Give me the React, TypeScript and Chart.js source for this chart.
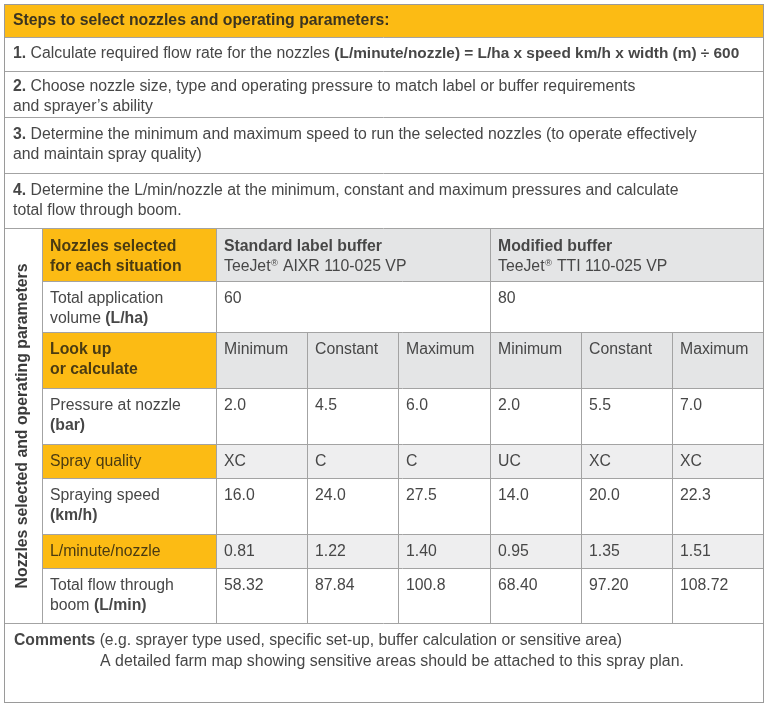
import React, { useEffect, useRef } from "react";
import { Chart, registerables } from "chart.js";

Chart.register(...registerables);

// ---------- data ----------
const title = "Steps to select nozzles and operating parameters:";
const stepNumbers = ["1.", "2.", "3.", "4."];
const stepLines: { t: string; b?: boolean; s?: number }[][][] = [
  [[{ t: " Calculate required flow rate for the nozzles " }, { t: "(L/minute/nozzle) = L/ha x speed km/h x width (m) ÷ 600", b: true, s: 0.975 }]],
  [[{ t: " Choose nozzle size, type and operating pressure to match label or buffer requirements" }], [{ t: "and sprayer’s ability" }]],
  [[{ t: " Determine the minimum and maximum speed to run the selected nozzles (to operate effectively" }], [{ t: "and maintain spray quality)" }]],
  [[{ t: " Determine the L/min/nozzle at the minimum, constant and maximum pressures and calculate" }], [{ t: "total flow through boom." }]],
];
const sideLabel = "Nozzles selected and operating parameters";
const headerLabel = ["Nozzles selected", "for each situation"];
const groups = ["Standard label buffer", "Modified buffer"];
const nozzles = ["TeeJet® AIXR 110-025 VP", "TeeJet® TTI 110-025 VP"];
const volumes = ["60", "80"];
const levels = ["Minimum", "Constant", "Maximum", "Minimum", "Constant", "Maximum"];
const pressure = ["2.0", "4.5", "6.0", "2.0", "5.5", "7.0"];
const sprayQuality = ["XC", "C", "C", "UC", "XC", "XC"];
const speed = ["16.0", "24.0", "27.5", "14.0", "20.0", "22.3"];
const flowPerNozzle = ["0.81", "1.22", "1.40", "0.95", "1.35", "1.51"];
const totalFlow = ["58.32", "87.84", "100.8", "68.40", "97.20", "108.72"];
const commentLabel = "Comments";
const commentHint = " (e.g. sprayer type used, specific set-up, buffer calculation or sensitive area)";
const commentText = "A detailed farm map showing sensitive areas should be attached to this spray plan.";

// ---------- styles / layout ----------
const YELLOW = "#FCBB14";
const GREY_HEAD = "#E4E5E6";
const GREY_ROW = "#EEEEEF";
const LINE = "#A3A3A3";
const TEXT = "#474747";
const TEXT_Y = "#4A3B12";
const FONT = "'Liberation Sans', Arial, Helvetica, sans-serif";
const FS = 15.8;

const L = 4, R = 763;
const stepRows = [4, 37, 71, 117, 173, 228];
const tableRows = [229, 281, 332, 388, 444, 478, 534, 568, 623];
const commentBottom = 702;
const colSide = 42, colLabel = 216;
const dataCols = [216, 307, 398, 490, 581, 672, 763];

export default function App() {
  const ref = useRef<HTMLCanvasElement | null>(null);
  useEffect(() => {
    document.body.style.margin = "0";
    const canvas = ref.current!;
    const tablePlugin = {
      id: "tablePlugin",
      afterDraw(chart: any) {
        const c: CanvasRenderingContext2D = chart.ctx;
        const xs = chart.scales.x, ys = chart.scales.y;
        const X = (v: number) => xs.getPixelForValue(v);
        const Y = (v: number) => ys.getPixelForValue(v);
        const rect = (x0: number, y0: number, x1: number, y1: number, col: string) => {
          c.fillStyle = col;
          c.fillRect(X(x0), Y(y0), X(x1) - X(x0), Y(y1) - Y(y0));
        };
        const hline = (x0: number, x1: number, y: number) => {
          c.beginPath();
          c.moveTo(X(x0), Y(y) + 0.5);
          c.lineTo(X(x1), Y(y) + 0.5);
          c.stroke();
        };
        const vline = (x: number, y0: number, y1: number) => {
          c.beginPath();
          c.moveTo(X(x) + 0.5, Y(y0));
          c.lineTo(X(x) + 0.5, Y(y1));
          c.stroke();
        };
        const rich = (segs: { t: string; b?: boolean; s?: number }[], x: number, y: number, col: string) => {
          let cx = X(x);
          c.fillStyle = col;
          c.textBaseline = "middle";
          c.textAlign = "left";
          for (const s of segs) {
            const fs = FS * (s.s || 1);
            const parts = s.t.split("®");
            parts.forEach((p, pi) => {
              c.font = `${s.b ? "bold " : ""}${fs}px ${FONT}`;
              c.fillText(p, cx, Y(y));
              cx += c.measureText(p).width;
              if (pi < parts.length - 1) {
                c.font = `${s.b ? "bold " : ""}${fs * 0.6}px ${FONT}`;
                c.fillText("®", cx + 0.5, Y(y) - 4);
                cx += c.measureText("®").width + 1;
              }
            });
          }
        };

        // backgrounds
        c.fillStyle = "#fff";
        c.fillRect(X(L), Y(4), X(R) - X(L), Y(commentBottom) - Y(4));
        rect(L, stepRows[0], R, stepRows[1], YELLOW);
        rect(colSide, tableRows[0], colLabel, tableRows[1], YELLOW);
        rect(colLabel, tableRows[0], R, tableRows[1], GREY_HEAD);
        const yellowRows = [2, 4, 6];
        for (const r of yellowRows) {
          rect(colSide, tableRows[r], colLabel, tableRows[r + 1], YELLOW);
          rect(colLabel, tableRows[r], R, tableRows[r + 1], r === 2 ? GREY_HEAD : GREY_ROW);
        }

        // lines
        c.strokeStyle = LINE;
        c.lineWidth = 1;
        for (let i = 1; i < stepRows.length; i++) hline(L, R, stepRows[i]);
        for (let i = 1; i < tableRows.length - 1; i++) hline(colSide, R, tableRows[i]);
        hline(L, R, tableRows[tableRows.length - 1]);
        vline(colSide, tableRows[0], tableRows[8]);
        vline(colLabel, tableRows[0], tableRows[8]);
        vline(dataCols[3], tableRows[0], tableRows[8]);
        for (const i of [1, 2, 4, 5]) vline(dataCols[i], tableRows[2], tableRows[8]);
        c.strokeStyle = "#9A9A9A";
        c.strokeRect(X(L) + 0.5, Y(4) + 0.5, X(R) - X(L), Y(commentBottom) - Y(4));

        // steps
        rich([{ t: title, b: true }], 13, 20.5, "#3B3420");
        const stepOffsets = [17, 16, 18, 18];
        stepLines.forEach((lines, i) => {
          const top = stepRows[i + 1];
          lines.forEach((segs, j) => {
            const s = j === 0 ? [{ t: stepNumbers[i], b: true }, ...segs] : segs;
            rich(s, 13, top + stepOffsets[i] + j * 20, TEXT);
          });
        });

        // side label
        c.save();
        c.translate(X(23), Y((tableRows[0] + tableRows[8]) / 2));
        c.rotate(-Math.PI / 2);
        c.font = `bold ${FS}px ${FONT}`;
        c.textAlign = "center";
        c.textBaseline = "middle";
        c.fillStyle = "#3a3a3a";
        c.fillText(sideLabel, 0, 0);
        c.restore();

        // header row
        const t0 = tableRows[0];
        rich([{ t: headerLabel[0], b: true }], 50, t0 + 18, TEXT_Y);
        rich([{ t: headerLabel[1], b: true }], 50, t0 + 38, TEXT_Y);
        groups.forEach((g, i) => {
          const gx = dataCols[i * 3] + 8;
          rich([{ t: g, b: true }], gx, t0 + 18, TEXT);
          rich([{ t: nozzles[i] }], gx, t0 + 38, TEXT);
        });

        // body rows
        const bodyLabels: { t: string; b?: boolean }[][][] = [
          [[{ t: "Total application" }], [{ t: "volume " }, { t: "(L/ha)", b: true }]],
          [[{ t: "Look up", b: true }], [{ t: "or calculate", b: true }]],
          [[{ t: "Pressure at nozzle" }], [{ t: "(bar)", b: true }]],
          [[{ t: "Spray quality" }]],
          [[{ t: "Spraying speed" }], [{ t: "(km/h)", b: true }]],
          [[{ t: "L/minute/nozzle" }]],
          [[{ t: "Total flow through" }], [{ t: "boom " }, { t: "(L/min)", b: true }]],
        ];
        const bodyValues = [levels, pressure, sprayQuality, speed, flowPerNozzle, totalFlow];
        bodyLabels.forEach((lines, i) => {
          const top = tableRows[i + 1];
          const yellow = yellowRows.includes(i + 1);
          lines.forEach((segs, j) => rich(segs, 50, top + 18 + j * 20, yellow ? TEXT_Y : TEXT));
        });
        volumes.forEach((v, i) => rich([{ t: v }], dataCols[i * 3] + 8, tableRows[1] + 18, TEXT));
        bodyValues.forEach((vals, i) => {
          const top = tableRows[i + 2];
          vals.forEach((v, k) => rich([{ t: v }], dataCols[k] + 8, top + 18, TEXT));
        });

        // comments (condensed)
        c.fillStyle = TEXT;
        c.textBaseline = "middle";
        c.textAlign = "left";
        c.save();
        c.font = `bold ${FS}px ${FONT}`;
        const wb = c.measureText(commentLabel).width;
        c.font = `${FS}px ${FONT}`;
        const wn = c.measureText(commentHint).width;
        const sx = (622 - 14) / (wb + wn);
        c.translate(X(14), 0);
        c.scale(sx, 1);
        c.font = `bold ${FS}px ${FONT}`;
        c.fillText(commentLabel, 0, Y(641));
        c.font = `${FS}px ${FONT}`;
        c.fillText(commentHint, wb, Y(641));
        c.restore();
        c.save();
        c.font = `${FS}px ${FONT}`;
        const wt = c.measureText(commentText).width;
        const sx2 = (X(684) - X(100)) / wt;
        c.translate(X(100), 0);
        c.scale(sx2, 1);
        c.fillText(commentText, 0, Y(662));
        c.restore();
      },
    };

    const chart = new Chart(canvas, {
      type: "scatter",
      data: { datasets: [{ data: [], pointRadius: 0 }] },
      options: {
        animation: false,
        responsive: false,
        events: [],
        layout: { padding: 0 },
        plugins: { legend: { display: false }, tooltip: { enabled: false } },
        scales: {
          x: { type: "linear", min: 0, max: 768, display: false },
          y: { type: "linear", min: 0, max: 712, reverse: true, display: false },
        },
      },
      plugins: [tablePlugin],
    } as any);
    return () => chart.destroy();
  }, []);
  return <canvas ref={ref} width={768} height={712} style={{ display: "block" }} />;
}
